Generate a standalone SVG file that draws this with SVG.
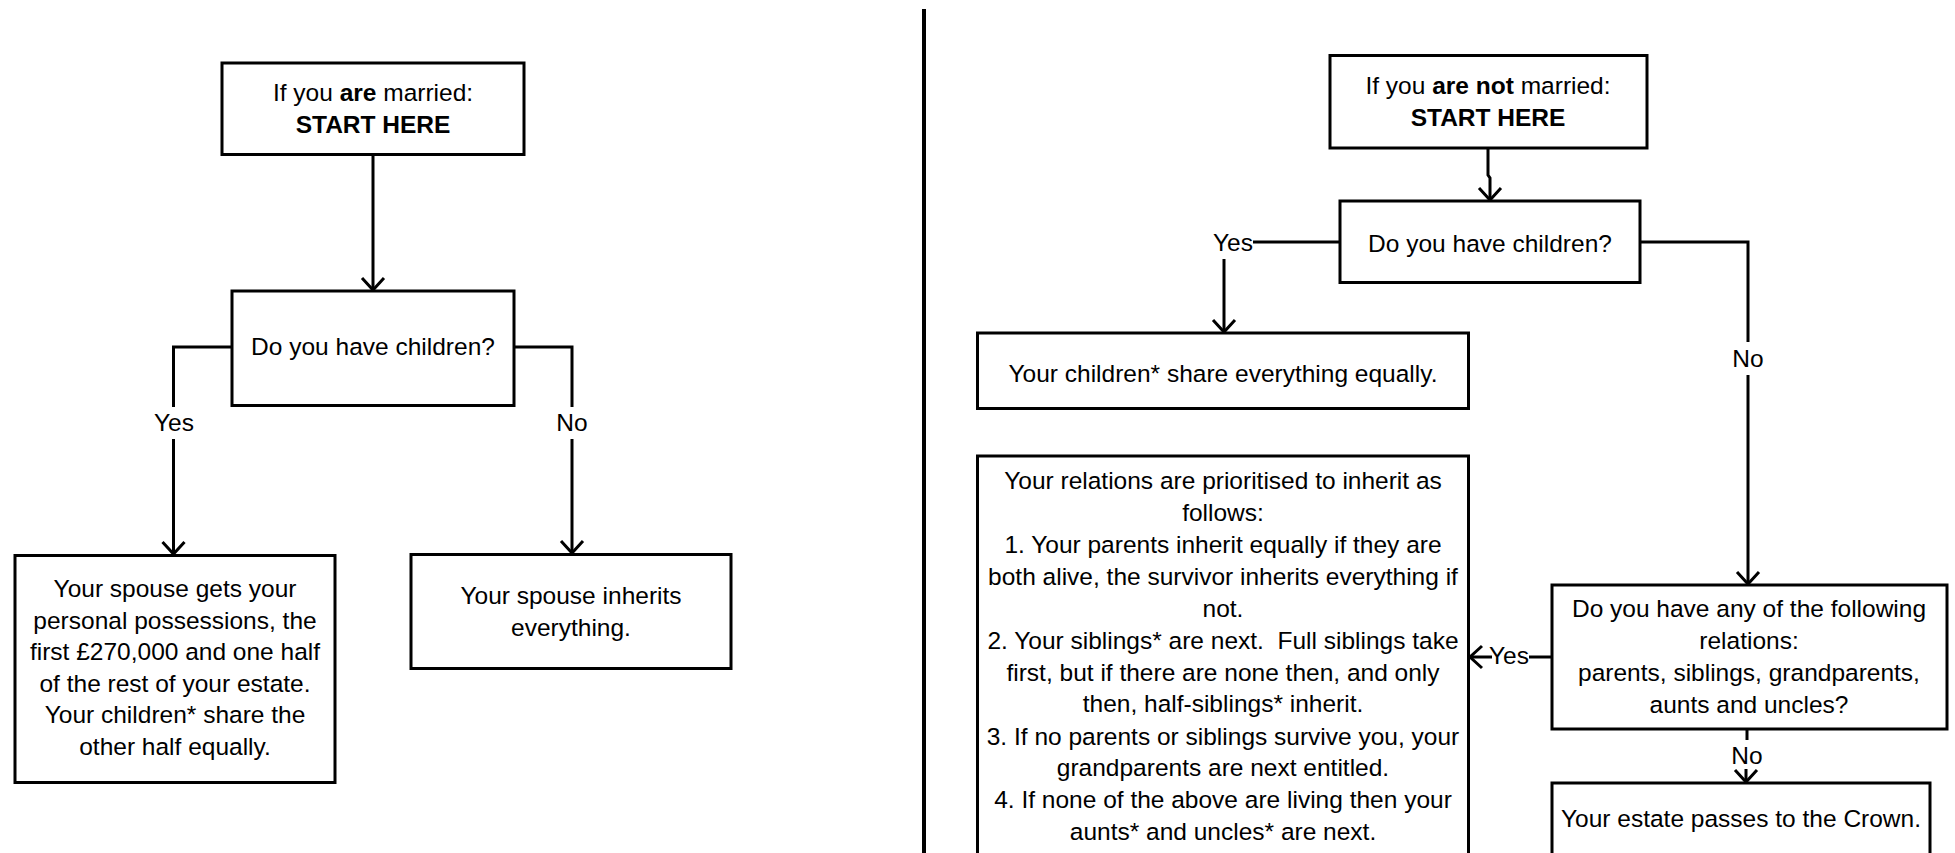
<svg xmlns="http://www.w3.org/2000/svg" width="1955" height="853" viewBox="0 0 1955 853">
<style>
  .box { fill: #ffffff; stroke: #000000; stroke-width: 3; }
  .t { font-family: "Liberation Sans", Arial, sans-serif; font-size: 24.5px; fill: #000000; text-anchor: middle; }
  .b { font-weight: bold; }
  .line { fill: none; stroke: #000000; stroke-width: 3; }
  .pre { white-space: pre; }
</style>
<defs>
  <marker id="arrow" markerUnits="userSpaceOnUse" markerWidth="30" markerHeight="30" refX="15" refY="15" orient="auto" viewBox="0 0 30 30">
    <path d="M3,4 L15,15 L3,26" fill="none" stroke="#000000" stroke-width="3"/>
  </marker>
</defs>
<rect x="0" y="0" width="1955" height="853" fill="#ffffff"/>

<g id="divider">
  <line x1="924" y1="9" x2="924" y2="853" stroke="#000000" stroke-width="4"/>
</g>

<g id="connectors">
  <!-- left side -->
  <path class="line" d="M373,154.5 V290" marker-end="url(#arrow)"/>
  <path class="line" d="M232,347 H173.5 V407"/>
  <path class="line" d="M173.5,439 V554" marker-end="url(#arrow)"/>
  <path class="line" d="M514,347 H572 V407"/>
  <path class="line" d="M572,439 V553" marker-end="url(#arrow)"/>
  <!-- right side -->
  <path class="line" d="M1488,148 V175 L1490,178 V200" marker-end="url(#arrow)"/>
  <path class="line" d="M1340,242 H1253"/>
  <path class="line" d="M1224,259 V332" marker-end="url(#arrow)"/>
  <path class="line" d="M1640,242 H1748 V342"/>
  <path class="line" d="M1748,375 V584" marker-end="url(#arrow)"/>
  <path class="line" d="M1552,657 H1529"/>
  <path class="line" d="M1492,657 H1470" marker-end="url(#arrow)"/>
  <path class="line" d="M1747,729 V740"/>
  <path class="line" d="M1746,769 V782" marker-end="url(#arrow)"/>
  <!-- labels -->
  <text class="t" x="174" y="431">Yes</text>
  <text class="t" x="572" y="431">No</text>
  <text class="t" x="1253" y="251" style="text-anchor:end">Yes</text>
  <text class="t" x="1748" y="367">No</text>
  <text class="t" x="1529" y="664" style="text-anchor:end">Yes</text>
  <text class="t" x="1747" y="764">No</text>
</g>

<g id="married-start">
  <rect class="box" x="222" y="63" width="302" height="91.5"/>
  <text class="t" x="373" y="101">If you <tspan class="b">are</tspan> married:</text>
  <text class="t b" x="373" y="133">START HERE</text>
</g>

<g id="married-children">
  <rect class="box" x="232" y="291" width="282" height="114.5"/>
  <text class="t" x="373" y="355">Do you have children?</text>
</g>

<g id="married-yes">
  <rect class="box" x="15" y="555.5" width="320" height="227"/>
  <text class="t" x="175" y="597">Your spouse gets your</text>
  <text class="t" x="175" y="628.5">personal possessions, the</text>
  <text class="t" x="175" y="660">first £270,000 and one half</text>
  <text class="t" x="175" y="691.5">of the rest of your estate.</text>
  <text class="t" x="175" y="723">Your children* share the</text>
  <text class="t" x="175" y="755">other half equally.</text>
</g>

<g id="married-no">
  <rect class="box" x="411" y="554.5" width="320" height="114"/>
  <text class="t" x="571" y="604">Your spouse inherits</text>
  <text class="t" x="571" y="636">everything.</text>
</g>

<g id="unmarried-start">
  <rect class="box" x="1330" y="55.5" width="317" height="92.5"/>
  <text class="t" x="1488" y="94">If you <tspan class="b">are not</tspan> married:</text>
  <text class="t b" x="1488" y="126">START HERE</text>
</g>

<g id="unmarried-children">
  <rect class="box" x="1340" y="201" width="300" height="81.5"/>
  <text class="t" x="1490" y="252">Do you have children?</text>
</g>

<g id="unmarried-yes">
  <rect class="box" x="977.5" y="333" width="491" height="75.5"/>
  <text class="t" x="1223" y="382">Your children* share everything equally.</text>
</g>

<g id="relations-question">
  <rect class="box" x="1552" y="585" width="395" height="144"/>
  <text class="t" x="1749" y="617">Do you have any of the following</text>
  <text class="t" x="1749" y="649">relations:</text>
  <text class="t" x="1749" y="681">parents, siblings, grandparents,</text>
  <text class="t" x="1749" y="713">aunts and uncles?</text>
</g>

<g id="relations-order">
  <rect class="box" x="977.5" y="456" width="491" height="460"/>
  <text class="t" x="1223" y="489">Your relations are prioritised to inherit as</text>
  <text class="t" x="1223" y="521">follows:</text>
  <text class="t" x="1223" y="553">1. Your parents inherit equally if they are</text>
  <text class="t" x="1223" y="585">both alive, the survivor inherits everything if</text>
  <text class="t" x="1223" y="616.5">not.</text>
  <text class="t pre" x="1223" y="649">2. Your siblings* are next.  Full siblings take</text>
  <text class="t" x="1223" y="680.5">first, but if there are none then, and only</text>
  <text class="t" x="1223" y="712">then, half-siblings* inherit.</text>
  <text class="t" x="1223" y="744.5">3. If no parents or siblings survive you, your</text>
  <text class="t" x="1223" y="776">grandparents are next entitled.</text>
  <text class="t" x="1223" y="808">4. If none of the above are living then your</text>
  <text class="t" x="1223" y="840">aunts* and uncles* are next.</text>
</g>

<g id="crown">
  <rect class="box" x="1552" y="783" width="378" height="120"/>
  <text class="t" x="1741" y="827">Your estate passes to the Crown.</text>
</g>
</svg>
